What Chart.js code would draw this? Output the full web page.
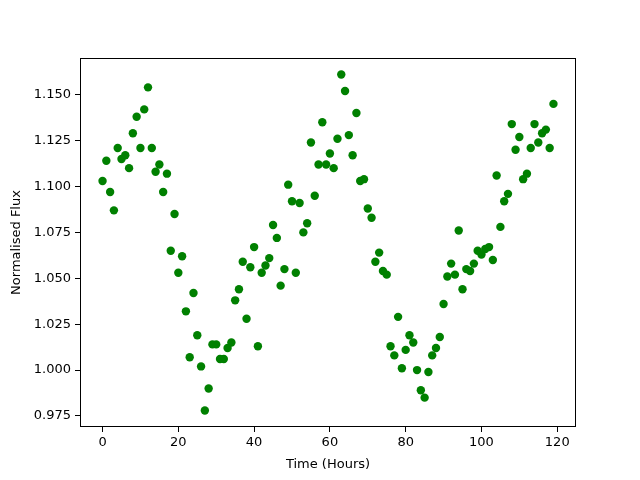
<!DOCTYPE html>
<html>
<head>
<meta charset="utf-8">
<script src="https://cdn.jsdelivr.net/npm/chart.js@4/dist/chart.umd.min.js"></script>
<style>
  html, body { margin: 0; padding: 0; background: #fff; }
  #wrap { width: 640px; height: 480px; }
</style>
</head>
<body>
<div id="wrap"><canvas id="myChart" width="640" height="480"></canvas></div>
<script>
const hours = [0,1,2,3,4,5,6,7,8,9,10,11,12,13,14,15,16,17,18,19,
  20,21,22,23,24,25,26,27,28,29,30,31,32,33,34,35,36,37,38,39,
  40,41,42,43,44,45,46,47,48,49,50,51,52,53,54,55,56,57,58,59,
  60,61,62,63,64,65,66,67,68,69,70,71,72,73,74,75,76,77,78,79,
  80,81,82,83,84,85,86,87,88,89,90,91,92,93,94,95,96,97,98,99,
  100,101,102,103,104,105,106,107,108,109,110,111,112,113,114,115,116,117,118,119];

const flux = [1.103,1.114,1.097,1.087,1.121,1.115,1.117,1.110,1.129,1.138,
  1.121,1.142,1.154,1.121,1.108,1.112,1.097,1.107,1.065,1.085,
  1.053,1.062,1.032,1.007,1.042,1.019,1.002,0.978,0.990,1.014,
  1.014,1.006,1.006,1.012,1.015,1.038,1.044,1.059,1.028,1.056,
  1.067,1.013,1.053,1.057,1.061,1.079,1.072,1.046,1.055,1.101,
  1.092,1.053,1.091,1.075,1.080,1.124,1.095,1.112,1.135,1.112,
  1.118,1.110,1.126,1.161,1.152,1.128,1.117,1.140,1.103,1.104,
  1.088,1.083,1.059,1.064,1.054,1.052,1.013,1.008,1.029,1.001,
  1.011,1.019,1.015,1.000,0.989,0.985,0.999,1.008,1.012,1.018,
  1.036,1.051,1.058,1.052,1.076,1.044,1.055,1.054,1.058,1.065,
  1.063,1.066,1.067,1.060,1.106,1.078,1.092,1.096,1.134,1.120,
  1.127,1.104,1.107,1.121,1.134,1.124,1.129,1.131,1.121,1.145];

const xTicks = [0, 20, 40, 60, 80, 100, 120];
const yTicks = [0.975, 1.000, 1.025, 1.050, 1.075, 1.100, 1.125, 1.150];

const points = hours.map((h, i) => ({ x: h, y: flux[i] }));

// matplotlib style box around the plot area
const frame = {
  id: 'frame',
  afterDraw(chart) {
    const a = chart.chartArea, ctx = chart.ctx;
    ctx.save();
    ctx.strokeStyle = '#000';
    ctx.lineWidth = 1;
    ctx.strokeRect(a.left + 0.5, a.top + 0.5, a.right - a.left - 1, a.bottom - a.top - 1);
    ctx.restore();
  }
};

const font = { family: 'DejaVu Sans', size: 13 };

new Chart(document.getElementById('myChart'), {
  type: 'scatter',
  data: {
    datasets: [{
      data: points,
      backgroundColor: '#008000',
      borderColor: '#008000',
      pointRadius: 4.2,
      pointHoverRadius: 4.2,
      borderWidth: 0
    }]
  },
  options: {
    responsive: false,
    animation: false,
    layout: { padding: { top: 58, right: 64, left: 0, bottom: 4 } },
    plugins: { legend: { display: false }, tooltip: { enabled: false } },
    scales: {
      x: {
        type: 'linear',
        min: -5.95,
        max: 124.95,
        afterBuildTicks: s => { s.ticks = xTicks.map(v => ({ value: v })); },
        afterFit: s => { s.height = 49; },
        grid: { drawOnChartArea: false, drawTicks: true, tickLength: 5, color: '#000' },
        border: { display: false },
        ticks: { color: '#000', font: font, padding: 3, maxRotation: 0 },
        title: { display: true, text: 'Time (Hours)', color: '#000', font: font, padding: { top: 2, bottom: 4 } }
      },
      y: {
        type: 'linear',
        min: 0.9690,
        max: 1.1700,
        afterBuildTicks: s => { s.ticks = yTicks.map(v => ({ value: v })); },
        afterFit: s => { s.width = 80; },
        grid: { drawOnChartArea: false, drawTicks: true, tickLength: 5, color: '#000' },
        border: { display: false },
        ticks: { color: '#000', font: font, padding: 4, callback: v => v.toFixed(3) },
        title: { display: true, text: 'Normalised Flux', color: '#000', font: font, padding: { top: 9, bottom: 4 } }
      }
    }
  },
  plugins: [frame]
});
</script>
</body>
</html>
